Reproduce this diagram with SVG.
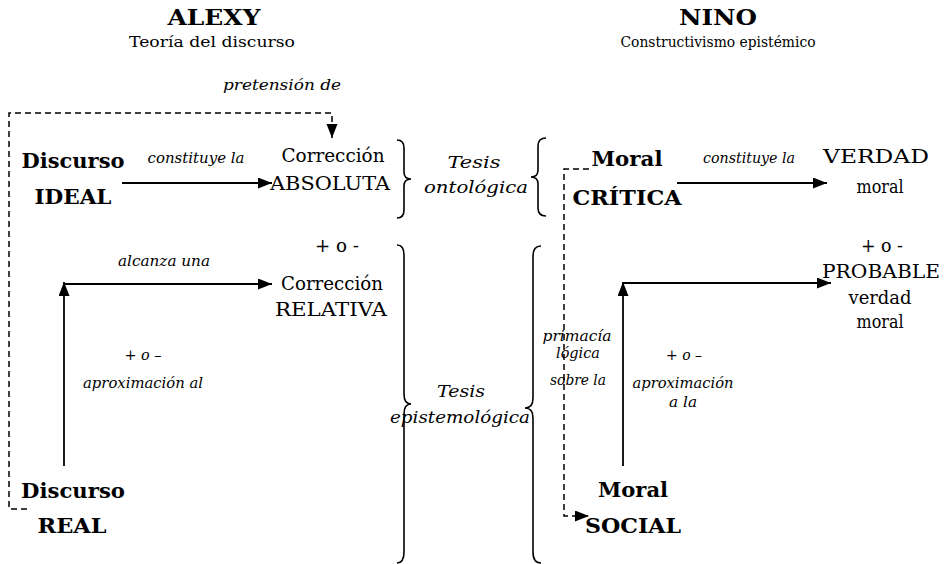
<svg xmlns="http://www.w3.org/2000/svg" width="945" height="564" viewBox="0 0 945 564" font-family="'DejaVu Serif', 'Liberation Serif', serif">
<defs>
<marker id="ah" markerUnits="userSpaceOnUse" markerWidth="15" markerHeight="12" refX="14" refY="5.5" orient="auto">
<path d="M0,0 L14,5.5 L0,11 z" fill="#000"/>
</marker>
<style>
text{font-family:'DejaVu Serif','Liberation Serif',serif;fill:#000}
.title{font-size:22px;font-weight:bold;text-anchor:middle}
.sub{font-size:15.5px;text-anchor:middle}
.b{font-size:21px;font-weight:bold;text-anchor:middle}
.r{font-size:18px;text-anchor:middle}
.i{font-size:14px;font-style:italic;text-anchor:middle}
.t{font-size:17px;font-style:italic;text-anchor:middle}
.ln{fill:none;stroke:#000;stroke-width:1.8}
.dash{fill:none;stroke:#000;stroke-width:1.5;stroke-dasharray:6 4}
.brace{fill:none;stroke:#000;stroke-width:1.6}
</style>
</defs>
<rect width="945" height="564" fill="#fff"/>

<g id="header-alexy">
<text class="title" x="214" y="25" textLength="93" lengthAdjust="spacingAndGlyphs">ALEXY</text>
<text class="sub" x="212" y="47" textLength="166" lengthAdjust="spacingAndGlyphs">Teoría del discurso</text>
</g>
<g id="header-nino">
<text class="title" x="718" y="25" textLength="78" lengthAdjust="spacingAndGlyphs">NINO</text>
<text class="sub" x="718" y="47" textLength="195" lengthAdjust="spacingAndGlyphs">Constructivismo epistémico</text>
</g>

<g id="connectors">
<path class="dash" d="M27,509 H9 V113 H332 V138" marker-end="url(#ah)"/>
<path class="dash" d="M589,169 H564 V516 H589" marker-end="url(#ah)"/>
<path class="ln" d="M122,183 H272" marker-end="url(#ah)"/>
<path class="ln" d="M677,183 H827" marker-end="url(#ah)"/>
<path class="ln" d="M64,466 V282" marker-end="url(#ah)"/>
<path class="ln" d="M64,284 H272" marker-end="url(#ah)"/>
<path class="ln" d="M623,466 V282" marker-end="url(#ah)"/>
<path class="ln" d="M623,283 H831" marker-end="url(#ah)"/>
</g>

<g id="connector-labels">
<text class="i" x="282" y="90" textLength="118" lengthAdjust="spacingAndGlyphs">pretensión de</text>
<text class="i" x="196" y="163" textLength="97" lengthAdjust="spacingAndGlyphs">constituye la</text>
<text class="i" x="749" y="163" textLength="92" lengthAdjust="spacingAndGlyphs">constituye la</text>
<text class="i" x="164" y="266" textLength="92" lengthAdjust="spacingAndGlyphs">alcanza una</text>
<text class="i" x="143" y="360" textLength="37" lengthAdjust="spacingAndGlyphs"><tspan font-style="normal">+</tspan> o <tspan font-style="normal">–</tspan></text>
<text class="i" x="143" y="388" textLength="120" lengthAdjust="spacingAndGlyphs">aproximación al</text>
<text class="i" x="684" y="360" textLength="36" lengthAdjust="spacingAndGlyphs"><tspan font-style="normal">+</tspan> o <tspan font-style="normal">–</tspan></text>
<text class="i" x="683" y="388" textLength="101" lengthAdjust="spacingAndGlyphs">aproximación</text>
<text class="i" x="683" y="407" textLength="28" lengthAdjust="spacingAndGlyphs">a la</text>
<text class="i" x="577" y="341" textLength="69" lengthAdjust="spacingAndGlyphs">primacía</text>
<text class="i" x="578" y="358" textLength="44" lengthAdjust="spacingAndGlyphs">lógica</text>
<text class="i" x="578" y="385" textLength="56" lengthAdjust="spacingAndGlyphs">sobre la</text>
</g>

<g id="braces">
<path class="brace" d="M397,140 Q404,140 404,148 V172 Q404,179 411,179 Q404,179 404,186 V210 Q404,218 397,218"/>
<path class="brace" d="M546,138 Q538,138 538,146 V170 Q538,177 531,177 Q538,177 538,184 V208 Q538,216 546,216"/>
<path class="brace" d="M397,245 Q404,245 404,255 V394 Q404,404 411,404 Q404,404 404,414 V552 Q404,563 397,563"/>
<path class="brace" d="M541,246 Q533,246 533,256 V398 Q533,408 525,408 Q533,408 533,418 V552 Q533,563 541,563"/>
</g>

<g id="tesis-ontologica">
<text class="t" x="474" y="168" textLength="53" lengthAdjust="spacingAndGlyphs">Tesis</text>
<text class="t" x="476" y="193" textLength="104" lengthAdjust="spacingAndGlyphs">ontológica</text>
</g>
<g id="tesis-epistemologica">
<text class="t" x="461" y="397" textLength="48" lengthAdjust="spacingAndGlyphs">Tesis</text>
<text class="t" x="460" y="423" textLength="140" lengthAdjust="spacingAndGlyphs">epistemológica</text>
</g>

<g id="discurso-ideal">
<text class="b" x="73" y="168" textLength="103" lengthAdjust="spacingAndGlyphs">Discurso</text>
<text class="b" x="73" y="204" textLength="77" lengthAdjust="spacingAndGlyphs">IDEAL</text>
</g>
<g id="correccion-absoluta">
<text class="r" x="333" y="162" textLength="103" lengthAdjust="spacingAndGlyphs">Corrección</text>
<text class="r" x="330" y="190" textLength="120" lengthAdjust="spacingAndGlyphs">ABSOLUTA</text>
</g>
<g id="moral-critica">
<text class="b" x="627" y="166" textLength="71" lengthAdjust="spacingAndGlyphs">Moral</text>
<text class="b" x="627" y="205" textLength="109" lengthAdjust="spacingAndGlyphs">CRÍTICA</text>
</g>
<g id="verdad-moral">
<text class="r" x="876" y="163" textLength="106" lengthAdjust="spacingAndGlyphs">VERDAD</text>
<text class="r" x="880" y="193" textLength="47" lengthAdjust="spacingAndGlyphs">moral</text>
</g>
<g id="correccion-relativa">
<text class="r" x="337" y="252" textLength="44" lengthAdjust="spacingAndGlyphs">+ o -</text>
<text class="r" x="332" y="290" textLength="102" lengthAdjust="spacingAndGlyphs">Corrección</text>
<text class="r" x="331" y="316" textLength="112" lengthAdjust="spacingAndGlyphs">RELATIVA</text>
</g>
<g id="probable-verdad-moral">
<text class="r" x="882" y="252" textLength="42" lengthAdjust="spacingAndGlyphs">+ o -</text>
<text class="r" x="881" y="278" textLength="118" lengthAdjust="spacingAndGlyphs">PROBABLE</text>
<text class="r" x="880" y="304" textLength="63" lengthAdjust="spacingAndGlyphs">verdad</text>
<text class="r" x="880" y="328" textLength="47" lengthAdjust="spacingAndGlyphs">moral</text>
</g>
<g id="discurso-real">
<text class="b" x="73" y="498" textLength="104" lengthAdjust="spacingAndGlyphs">Discurso</text>
<text class="b" x="72" y="533" textLength="69" lengthAdjust="spacingAndGlyphs">REAL</text>
</g>
<g id="moral-social">
<text class="b" x="633" y="497" textLength="70" lengthAdjust="spacingAndGlyphs">Moral</text>
<text class="b" x="633" y="533" textLength="96" lengthAdjust="spacingAndGlyphs">SOCIAL</text>
</g>
</svg>
